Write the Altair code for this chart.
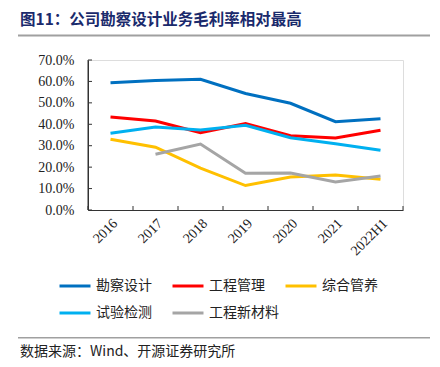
import altair as alt
import pandas as pd

years = ["2016", "2017", "2018", "2019", "2020", "2021", "2022H1"]
series_names = ["勘察设计", "工程管理", "综合管养", "试验检测", "工程新材料"]
kcsj = [59.4, 60.4, 61.0, 54.4, 49.8, 41.2, 42.6]
gcgl = [43.4, 41.5, 36.1, 40.3, 34.7, 33.6, 37.2]
zhgy = [33.0, 29.3, 19.5, 11.4, 15.4, 16.3, 14.3]
syjc = [35.8, 38.7, 37.3, 39.5, 33.7, 30.9, 27.9]
gcxcl = [None, 26.0, 30.8, 17.1, 17.3, 13.1, 15.9]
colors = ["#0070C0", "#FF0000", "#FFC000", "#00B0F0", "#A5A5A5"]
y_ticks = [0, 10, 20, 30, 40, 50, 60, 70]
title_text = "图11：公司勘察设计业务毛利率相对最高"
source_text = "数据来源：Wind、开源证券研究所"

rows = []
for name, vals in zip(series_names, [kcsj, gcgl, zhgy, syjc, gcxcl]):
    for yr, v in zip(years, vals):
        rows.append({"year": yr, "series": name, "value": v})
df = pd.DataFrame(rows)

serif = "Liberation Serif"
cjk = "Noto Sans CJK SC"
axis_color = "#333333"

xscale = alt.Scale(type="band", paddingInner=0, paddingOuter=0, domain=years)
yscale = alt.Scale(domain=[0, 70])

x_axis = alt.Axis(title=None, labelAngle=-45, ticks=False, labelFont=serif,
                  labelFontSize=14, labelColor="#222222", domain=True,
                  domainColor=axis_color, domainWidth=1, labelPadding=6)
y_axis = alt.Axis(title=None, values=y_ticks, tickCount=8, ticks=False, grid=False,
                  labelOverlap=False,
                  labelExpr="format(datum.value, '.1f') + '%'", labelFont=serif,
                  labelFontSize=14, labelColor="#222222", domain=True,
                  domainColor=axis_color, domainWidth=1, labelPadding=14)

lines = alt.Chart(df).mark_line(strokeWidth=3).encode(
    x=alt.X("year:N", scale=xscale, bandPosition=0.5, sort=years, axis=x_axis),
    y=alt.Y("value:Q", scale=yscale, axis=y_axis),
    color=alt.Color("series:N", sort=series_names,
                    scale=alt.Scale(domain=series_names, range=colors),
                    legend=alt.Legend(title=None, orient="none", legendX=-30, legendY=209,
                                      direction="horizontal", columns=3, symbolType="stroke",
                                      symbolSize=961, symbolStrokeWidth=3, labelFont=cjk,
                                      labelFontSize=14, labelColor="#222222", gridAlign="all",
                                      columnPadding=0, rowPadding=3, labelOffset=4)),
)

xtick_df = pd.DataFrame({"year": years})
xticks = alt.Chart(xtick_df).mark_rule(color=axis_color, strokeWidth=1).encode(
    x=alt.X("year:N", scale=xscale, bandPosition=0, sort=years, axis=x_axis),
    y=alt.value(146), y2=alt.value(150),
)
xtick_end = alt.Chart(pd.DataFrame({"year": [years[-1]]})).mark_rule(color=axis_color, strokeWidth=1).encode(
    x=alt.X("year:N", scale=xscale, bandPosition=1, sort=years, axis=x_axis),
    y=alt.value(146), y2=alt.value(150),
)
ytick_df = pd.DataFrame({"value": y_ticks})
yticks = alt.Chart(ytick_df).mark_rule(color=axis_color, strokeWidth=1).encode(
    y=alt.Y("value:Q", scale=yscale, axis=y_axis),
    x=alt.value(0), x2=alt.value(4),
)
yaxis_line = alt.Chart(pd.DataFrame({"a": [0]})).mark_rule(color=axis_color, strokeWidth=1).encode(
    x=alt.value(0), y=alt.value(0), y2=alt.value(150))

title = alt.Chart(pd.DataFrame({"t": [title_text]})).mark_text(
    font=cjk, fontSize=15.5, fontWeight="bold", color="#1A2A6C", align="left", baseline="middle"
).encode(text="t:N", x=alt.value(-68), y=alt.value(-40.5))

top_line = alt.Chart(pd.DataFrame({"a": [0]})).mark_rule(color="#A0A0A0", strokeWidth=2).encode(
    x=alt.value(-70), x2=alt.value(342), y=alt.value(-24.5))
bottom_line = alt.Chart(pd.DataFrame({"a": [0]})).mark_rule(color="#A0A0A0", strokeWidth=1.5).encode(
    x=alt.value(-70), x2=alt.value(342), y=alt.value(277.7))

source = alt.Chart(pd.DataFrame({"t": [source_text]})).mark_text(
    font=cjk, fontSize=14, color="#222222", align="left", baseline="middle"
).encode(text="t:N", x=alt.value(-68), y=alt.value(291.7))

chart = alt.layer(lines, xticks, xtick_end, yticks, yaxis_line, title, top_line, bottom_line, source).properties(
    width=315, height=150,
    autosize=alt.AutoSizeParams(type="none"),
    padding={"left": 80, "top": 52, "right": 29, "bottom": 149},
).configure_view(stroke=None).configure(background="white")

chart.save("out.html", embed_options={"renderer": "svg", "actions": False})
